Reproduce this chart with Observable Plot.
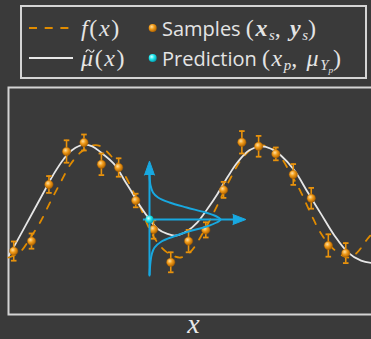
<!DOCTYPE html>
<html><head><meta charset="utf-8">
<script src="https://cdn.jsdelivr.net/npm/d3@7"></script>
<script src="https://cdn.jsdelivr.net/npm/@observablehq/plot@0.6"></script>
<style>
html,body{margin:0;padding:0;background:#3a3a3a;width:371px;height:339px;overflow:hidden;}
#legend{position:relative;width:371px;height:83px;}
#box{position:absolute;left:20px;top:5px;width:347px;height:74px;box-sizing:border-box;border:2px solid #d4d4d4;}
.item{position:absolute;height:26px;display:flex;align-items:center;color:#e4e4e4;white-space:nowrap;}
.sw{position:absolute;}
.sans{font-family:"Open Sans";font-size:20px;}
.m{font-family:"Liberation Serif";font-size:24px;letter-spacing:1.6px;}
.m i{font-style:italic;}
.m b{font-weight:bold;font-style:italic;}
sub{font-size:0.62em;vertical-align:-0.3em;line-height:0;letter-spacing:0;}
.tl{position:relative;display:inline-block;font-style:italic;}
.tl svg{position:absolute;left:4px;top:3px;}
#chart svg{display:block;overflow:hidden;}
</style></head>
<body>
<svg width="0" height="0" style="position:absolute">
  <defs>
    <radialGradient id="gOrange" cx="0.38" cy="0.35" r="0.7">
      <stop offset="0" stop-color="#ffe0a0"/>
      <stop offset="0.45" stop-color="#f09a18"/>
      <stop offset="1" stop-color="#a85e00"/>
    </radialGradient>
    <radialGradient id="gCyan" cx="0.38" cy="0.35" r="0.7">
      <stop offset="0" stop-color="#d8ffff"/>
      <stop offset="0.45" stop-color="#20e8ee"/>
      <stop offset="1" stop-color="#0096a8"/>
    </radialGradient>
  </defs>
</svg>
<div id="legend">
  <div id="box"></div>
  <svg class="sw" style="left:28px;top:22px" width="46" height="12"><line x1="1" y1="6" x2="41" y2="6" stroke="#e08b00" stroke-width="2" stroke-dasharray="8,7.7"/></svg>
  <div class="item m" style="left:81px;top:15px"><i>f</i>(<i>x</i>)</div>
  <svg class="sw" style="left:147px;top:22px" width="12" height="12"><circle cx="5.7" cy="6" r="4" fill="url(#gOrange)"/></svg>
  <div class="item" style="left:162px;top:15px"><span class="sans">Samples&nbsp;</span><span class="m">(<b>x</b><sub><i>s</i></sub>,&nbsp;<b>y</b><sub><i>s</i></sub>)</span></div>

  <svg class="sw" style="left:28px;top:52px" width="46" height="12"><line x1="1" y1="6" x2="45" y2="6" stroke="#e8e8e8" stroke-width="2"/></svg>
  <div class="item m" style="left:81px;top:45px"><span class="tl">μ<svg width="10" height="6"><path d="M0.8,4.2 C2,1.2 3.6,1.2 5,3 S8,4.8 9.2,1.8" fill="none" stroke="#e4e4e4" stroke-width="1.2"/></svg></span>(<i>x</i>)</div>
  <svg class="sw" style="left:147px;top:52px" width="12" height="12"><circle cx="5.7" cy="6" r="4" fill="url(#gCyan)"/></svg>
  <div class="item" style="left:162px;top:45px"><span class="sans">Prediction&nbsp;</span><span class="m">(<i>x</i><sub><i>p</i></sub>,&nbsp;<i>μ</i><sub><i>Y</i><sub><i>p</i></sub></sub>)</span></div>
</div>
<div id="chart"></div>
<script>
// Samples
const sampleX = [0.30, 1.32, 2.32, 3.33, 4.33, 5.33, 6.32, 7.30, 8.32, 9.31, 10.33, 11.32, 12.34, 13.39, 14.35, 15.34, 16.34, 17.37, 18.35, 19.35];
const sampleY = [-0.79, -0.54, 0.875, 1.70, 1.925, 1.38, 1.30, 0.475, -0.25, -1.07, -0.54, -0.26, 0.74, 1.93, 1.83, 1.64, 1.125, 0.53, -0.65, -0.84];
const sampleErr = [0.24, 0.19, 0.21, 0.28, 0.20, 0.27, 0.23, 0.17, 0.23, 0.25, 0.28, 0.19, 0.20, 0.28, 0.26, 0.16, 0.26, 0.26, 0.28, 0.25];

// true function f(x) (dashed)
const fX = [0, 0.69, 1.26, 1.84, 2.41, 2.99, 3.56, 4.14, 4.83, 5.29, 5.86, 6.44, 7.01, 7.59, 8.16, 8.74, 9.31, 9.89, 10.46, 11.03, 11.61, 12.18, 12.76, 13.33, 13.91, 14.48, 15.06, 15.63, 16.21, 16.78, 17.36, 17.93, 18.51, 19.08, 19.54, 20.0, 20.57, 21.1];
const fY = [-0.95, -0.80, -0.45, -0.05, 0.45, 0.93, 1.38, 1.68, 1.85, 1.83, 1.60, 1.28, 0.83, 0.28, -0.30, -0.68, -0.88, -0.95, -0.80, -0.43, 0.03, 0.53, 1.05, 1.48, 1.75, 1.85, 1.80, 1.55, 1.13, 0.68, 0.13, -0.35, -0.68, -0.88, -0.95, -0.83, -0.50, -0.23];

// posterior mean mu~(x) (white)
const muX = [0.02, 0.30, 1.45, 2.13, 2.60, 3.18, 3.66, 4.33, 4.81, 5.29, 6.05, 6.72, 7.01, 7.59, 8.10, 8.55, 9.12, 9.60, 10.27, 10.84, 11.42, 11.99, 12.57, 13.14, 13.81, 14.48, 15.06, 15.63, 16.40, 17.17, 17.93, 18.70, 19.47, 20.23, 20.86];
const muY = [-0.90, -0.69, 0.225, 0.77, 1.14, 1.52, 1.74, 1.87, 1.83, 1.68, 1.39, 0.93, 0.73, 0.31, 0.0, -0.23, -0.36, -0.40, -0.28, -0.07, 0.27, 0.64, 1.06, 1.43, 1.73, 1.83, 1.77, 1.60, 1.23, 0.68, 0.14, -0.40, -0.82, -1.03, -1.09];

// prediction point and its predictive density (drawn sideways)
const predX = [8.09];
const predY = [0];
const gaussY = [1.10, 0.85, 0.675, 0.55, 0.425, 0.30, 0.175, 0.075, 0, -0.075, -0.175, -0.30, -0.425, -0.55, -0.70, -0.85, -1.05, -1.40];
const gaussDensity = [0, 0.06, 0.20, 0.49, 1.15, 2.13, 3.22, 3.85, 4.08, 3.85, 3.28, 2.24, 1.38, 0.69, 0.29, 0.14, 0.06, 0];
const densityAxisY = [-1.40, 1.46];   // vertical arrow extent
const densityAxisX = [7.74, 13.62];   // horizontal arrow extent

const orange = "#e8920c";
const blue = "#18a8e0";

const samples = sampleX.map((x, i) => ({x, y: sampleY[i], e: sampleErr[i]}));
const fData = fX.map((x, i) => ({x, y: fY[i]}));
const muData = muX.map((x, i) => ({x, y: muY[i]}));
const gauss = gaussY.map((y, i) => ({x: predX[0] + gaussDensity[i], y}));
const pred = predX.map((x, i) => ({x, y: predY[i]}));

const capW = 0.16;
const svg = Plot.plot({
  width: 371,
  height: 256,
  marginTop: 4,
  marginBottom: 25,
  marginLeft: 8,
  marginRight: -3,
  style: {background: "transparent", overflow: "hidden"},
  x: {domain: [0, 21], axis: null},
  y: {domain: [-2.375, 3.3], axis: null},
  marks: [
    Plot.frame({stroke: "#d4d4d4", strokeWidth: 2}),
    Plot.line(fData, {x: "x", y: "y", stroke: "#e08b00", strokeWidth: 1.8, strokeDasharray: "7,9", curve: "catmull-rom"}),
    Plot.line(muData, {x: "x", y: "y", stroke: "#e6e6e6", strokeWidth: 1.8, curve: "catmull-rom"}),
    Plot.ruleX(samples, {x: "x", y1: d => d.y - d.e, y2: d => d.y + d.e, stroke: orange, strokeWidth: 1.6}),
    Plot.link(samples, {x1: d => d.x - capW, x2: d => d.x + capW, y1: d => d.y + d.e, y2: d => d.y + d.e, stroke: orange, strokeWidth: 1.8}),
    Plot.link(samples, {x1: d => d.x - capW, x2: d => d.x + capW, y1: d => d.y - d.e, y2: d => d.y - d.e, stroke: orange, strokeWidth: 1.8}),
    Plot.dot(samples, {x: "x", y: "y", r: 4.2, fill: "url(#gOrange)", stroke: "#a85e00", strokeWidth: 0.4}),
    // density axes
    Plot.ruleX(predX, {y1: densityAxisY[0], y2: densityAxisY[1] - 0.12, stroke: blue, strokeWidth: 2}),
    Plot.ruleY(predY, {x1: densityAxisX[0], x2: densityAxisX[1] - 0.3, stroke: blue, strokeWidth: 2}),
    Plot.vector(predX, {x: d => d, y: densityAxisY[1], length: 14, rotate: 0, shape: "spike", r: 5, anchor: "end", fill: blue, stroke: blue, strokeWidth: 1}),
    Plot.vector(predY, {x: densityAxisX[1], y: d => d, length: 13, rotate: 90, shape: "spike", r: 5, anchor: "end", fill: blue, stroke: blue, strokeWidth: 1}),
    Plot.line(gauss, {x: "x", y: "y", stroke: blue, strokeWidth: 2, curve: "catmull-rom"}),
    Plot.dot(pred, {x: "x", y: "y", r: 4, fill: "url(#gCyan)"}),
    Plot.text(["x"], {text: d => d, frameAnchor: "bottom", dy: 10, dx: 2, lineAnchor: "middle", fontFamily: "Liberation Serif", fontStyle: "italic", fontSize: 28, fill: "#e8e8e8"})
  ]
});
document.getElementById("chart").appendChild(svg);
</script>
</body></html>
